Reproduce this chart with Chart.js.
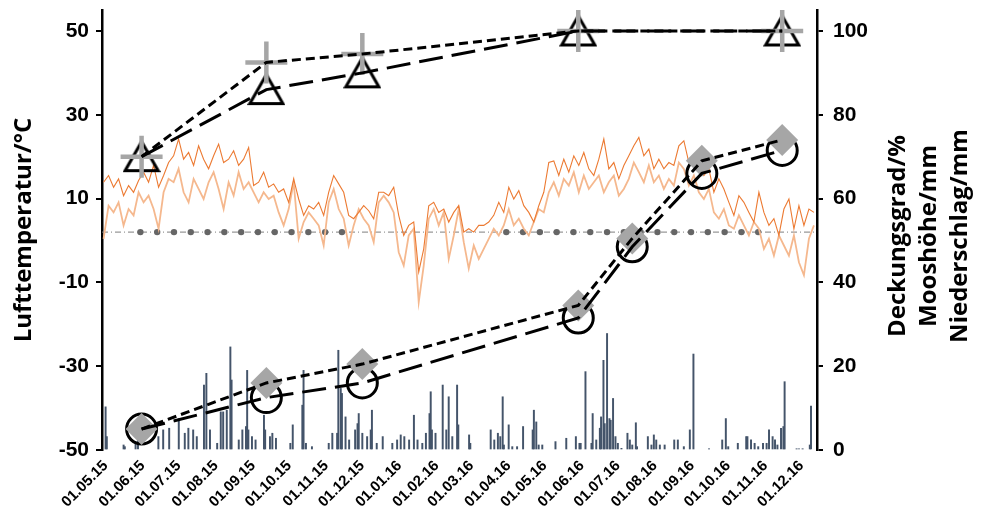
<!DOCTYPE html>
<html>
<head>
<meta charset="utf-8">
<script src="https://cdn.jsdelivr.net/npm/chart.js@4.4.1/dist/chart.umd.min.js"></script>
<style>
  html, body { margin: 0; padding: 0; background: #fff; }
  #wrap { position: relative; width: 981px; height: 506px; }
</style>
</head>
<body>
<div id="wrap"><canvas id="c"></canvas></div>
<script>
// Day numbers are counted from 1 May 2015 (= day 0).
const monthTickDays = [0, 31, 61, 92, 123, 153, 184, 214, 245, 276, 305, 336, 366, 397, 427, 458, 489, 519, 550, 580];
const monthTickLabels = ['01.05.15', '01.06.15', '01.07.15', '01.08.15', '01.09.15', '01.10.15', '01.11.15', '01.12.15',
  '01.01.16', '01.02.16', '01.03.16', '01.04.16', '01.05.16', '01.06.16', '01.07.16', '01.08.16', '01.09.16',
  '01.10.16', '01.11.16', '01.12.16'];

const tempLeftTicks = [-50, -30, -10, 10, 30, 50];
const rightTicks = [0, 20, 40, 60, 80, 100];

// Air temperature (°C), one reading every 4.17 days starting at day -1.7
const tempFirstDay = -1.7;
const tempStepDays = 4.17;
const airTempA = [
  13.9, 15.5, 12.7, 14.7, 10.7, 13.1, 11.5, 14.3, 16.3, 13.9,
  17.9, 12.7, 15.5, 18.6, 20.2, 24.2, 19.4, 21.0, 17.9, 22.6,
  19.4, 17.1, 20.2, 23.0, 18.6, 19.4, 21.4, 17.9, 19.4, 22.2,
  13.1, 13.9, 16.3, 12.7, 13.5, 11.5, 12.3, 9.1, 14.7, 9.9,
  6.0, 8.3, 7.5, 9.1, 6.0, 11.5, 15.5, 13.5, 11.5, 6.0,
  5.2, 6.7, 8.3, 7.1, 5.2, 11.5, 11.5, 10.7, 12.7, 6.0,
  1.2, 3.6, 4.4, -7.5, -2.0, 8.3, 9.1, 6.7, 7.5, 4.4,
  6.7, 8.3,
  2.0, 2.8, 2.0, 3.6, 3.6, 4.4, 6.0, 9.1, 6.7, 12.7,
  9.9, 11.9, 8.3, 6.7, 4.4, 8.3, 11.5, 18.6, 19.0, 15.5,
  19.4, 16.3, 20.2, 17.9, 21.0, 17.1, 15.5, 19.4, 24.2, 17.1,
  18.6, 14.7, 17.9, 20.2, 22.6, 24.6, 20.2, 21.8, 17.1, 19.4,
  17.1, 18.6, 17.9, 22.6, 23.8, 18.6, 19.4, 17.1, 15.5, 17.1,
  11.5, 14.7, 12.3, 9.1, 6.0, 10.7, 9.1, 6.7, 4.4, 11.5,
  6.7, 3.6, 5.2, 1.2, 7.5, 9.9, 2.8, 8.3, 3.6, 7.5,
  6.7
];
const airTempB = [
  0.4, 8.3, 6.7, 9.1, 3.6, 7.5, 6.0, 11.5, 9.1, 10.7,
  7.5, 2.8, 11.5, 14.7, 13.9, 17.1, 11.5, 9.1, 14.7, 12.3,
  9.9, 13.9, 16.3, 12.3, 7.5, 13.9, 10.7, 16.3, 12.3, 13.9,
  11.5, 9.1, 11.5, 9.9, 10.7, 6.7, 3.6, 7.5, 13.9, 0.4,
  4.4, 6.7, 5.2, 3.6, -1.2, 9.1, 12.3, 7.5, 5.2, -1.2,
  3.6, 7.5, 5.2, 3.6, -0.4, 9.1, 10.7, 9.1, 6.7, -2.8,
  -6.0, 1.2, 2.8, -14.7, -6.0, 5.2, 7.5, 3.6, 6.7, -4.4,
  1.2, 7.5,
  -0.4, -6.7, -1.2, -4.4, -2.0, 0.4, 2.8, 1.2, 3.6, 7.5,
  3.6, 5.2, 2.8, 1.2, 4.4, 7.5, 6.7, 11.5, 13.9, 10.7,
  14.7, 13.1, 16.3, 11.5, 15.5, 12.3, 13.9, 15.5, 11.5, 13.9,
  15.5, 10.7, 12.3, 14.7, 18.6, 16.3, 13.9, 17.9, 13.9, 15.5,
  12.3, 14.7, 13.1, 18.6, 17.1, 13.1, 15.5, 11.5, 9.9, 12.3,
  6.7, 5.2, 7.5, 3.6, 2.8, 6.0, 3.6, 1.2, 4.4, 2.8,
  -2.0, 0.4, -3.6, 1.2, -1.2, -3.6, 1.2, -5.2, -8.3, 0.4,
  3.6
];

// Daily precipitation (mm)
const precipDays = [
  0, 1, 15, 16, 25, 27, 44, 48, 53, 61, 66, 69, 73, 76, 82, 84, 87, 93, 96, 98,
  101, 104, 105, 111, 114, 117, 118, 119, 122, 125, 132, 133, 137, 139, 142, 154, 156, 164, 165, 167,
  172, 186, 189, 193, 194, 196, 197, 200, 203, 208, 210, 211, 214, 218, 221, 222, 226, 231, 239, 243,
  246, 249, 253, 257, 260, 264, 267, 270, 271, 272, 275, 281, 284, 286, 289, 293, 294, 303, 304, 321,
  324, 327, 329, 331, 332, 336, 339, 343, 348, 356, 357, 359, 361, 364, 375, 384, 392, 395, 396, 400,
  405, 406, 409, 412, 413, 415, 416, 418, 420, 421, 423, 425, 427, 430, 435, 437, 439, 442, 443, 452,
  455, 457, 459, 462, 466, 474, 477, 482, 487, 490, 503, 514, 517, 519, 527, 534, 535, 538, 541, 544,
  548, 551, 553, 556, 558, 560, 563, 565, 566, 576, 578, 581, 587, 588
];
const precipMm = [
  10.3, 3.2, 1.2, 0.8, 2.0, 2.8, 3.2, 4.8, 5.2, 7.5, 4.0, 5.2, 4.8, 3.2, 15.5, 18.3, 4.8, 1.6, 9.1, 9.1,
  9.5, 24.6, 16.7, 2.4, 4.8, 5.6, 19.0, 4.8, 3.2, 2.4, 8.3, 4.8, 3.2, 4.0, 2.8, 1.6, 6.0, 10.7, 19.0, 1.6,
  0.8, 1.6, 4.0, 4.0, 23.8, 14.7, 13.5, 7.9, 2.4, 4.8, 6.3, 8.7, 4.0, 3.2, 4.8, 9.5, 1.6, 3.2, 1.6, 2.4,
  3.6, 3.2, 2.4, 8.3, 2.4, 1.6, 4.0, 8.7, 13.9, 4.8, 4.0, 15.5, 4.8, 12.7, 3.2, 15.5, 6.0, 3.6, 1.6, 4.8,
  2.4, 4.0, 3.2, 12.7, 1.2, 6.0, 0.8, 0.8, 5.6, 4.8, 9.5, 6.7, 1.2, 1.2, 2.0, 2.8, 3.2, 1.6, 1.6, 18.7,
  1.6, 8.7, 2.4, 5.2, 7.9, 21.4, 6.3, 27.8, 7.5, 7.1, 12.3, 3.2, 1.6, 0.4, 4.0, 2.4, 1.2, 6.5, 0.8, 3.2,
  1.2, 3.6, 2.4, 1.2, 1.2, 2.4, 2.4, 0.8, 4.8, 22.9, 0.3, 2.4, 7.5, 0.8, 1.6, 3.2, 3.2, 2.4, 1.6, 0.8,
  1.6, 1.6, 4.8, 3.2, 2.4, 1.2, 5.2, 5.6, 16.3, 0.3, 0.3, 0.3, 1.2, 10.5
];

// Vegetation surveys
const coverDays = [30, 134, 214, 394, 564];
const coverTriangle = [70, 86, 90, 100, 100];      // Deckungsgrad/%
const coverCross = [70, 92.5, 94.5, 100, 100];     // Deckungsgrad/%
const mossDays = [30, 134, 214, 394, 439, 497, 564];
const mossCircle = [5, 12.5, 16, 31.5, 48.5, 66, 71.5];   // Mooshöhe/mm
const mossDiamond = [5, 16, 20.5, 34.5, 50.5, 69, 74];    // Mooshöhe/mm

// Reference level with fortnightly logger check dates
const refLevel = 2;
const refDotDays = [29, 43, 57, 71, 85, 99, 113, 127, 141, 155, 169, 183, 197,
  334, 348, 362, 376, 390, 404, 418, 432, 446, 460, 474, 488, 502, 516, 530, 544];

const leftTitle = 'Lufttemperatur/°C';
const rightTitleLines = ['Deckungsgrad/%', 'Mooshöhe/mm', 'Niederschlag/mm'];

const X_MIN = -3, X_MAX = 593;
const TICK_FONT = { family: 'Liberation Sans', size: 21, weight: 'bold' };
const TITLE_FONT = { family: 'Open Sans', size: 24, weight: 'bold' };

const toPoints = (days, vals) => days.map((d, i) => ({ x: d, y: vals[i] }));
const tempPoints = vals => vals.map((v, i) => ({ x: tempFirstDay + i * tempStepDays, y: v }));

function triangleMarker() {
  const c = document.createElement('canvas');
  c.width = 38; c.height = 35;
  const g = c.getContext('2d');
  g.lineWidth = 3; g.strokeStyle = '#000'; g.lineJoin = 'miter';
  g.beginPath();
  g.moveTo(19, 2.5); g.lineTo(2.5, 31.5); g.lineTo(35.5, 31.5); g.closePath();
  g.stroke();
  return c;
}

const rightTitlePlugin = {
  id: 'rightTitle',
  afterDraw(chart) {
    const s = chart.scales.y1;
    const ctx = chart.ctx;
    const yc = (chart.chartArea.top + chart.chartArea.bottom) / 2 + 6;
    ctx.save();
    ctx.font = `${TITLE_FONT.weight} ${TITLE_FONT.size}px "${TITLE_FONT.family}"`;
    ctx.fillStyle = '#000';
    ctx.textAlign = 'center';
    ctx.textBaseline = 'middle';
    rightTitleLines.forEach((t, i) => {
      ctx.save();
      ctx.translate(s.left + 81 + i * 31, yc);
      ctx.rotate(-Math.PI / 2);
      ctx.fillText(t, 0, 0);
      ctx.restore();
    });
    ctx.restore();
  }
};

function build() {
  const tri = triangleMarker();
  const markerBase = { type: 'line', showLine: false, yAxisID: 'y1' };
  const dashBase = { type: 'line', yAxisID: 'y1', pointRadius: 0, borderColor: '#000', borderWidth: 3, fill: false, order: 1 };

  new Chart(document.getElementById('c'), {
    data: {
      datasets: [
        { type: 'bar', yAxisID: 'y1', data: toPoints(precipDays, precipMm),
          backgroundColor: '#44546A', barThickness: 1.3, order: 10 },
        { type: 'line', yAxisID: 'y', data: [{ x: X_MIN, y: refLevel }, { x: X_MAX, y: refLevel }],
          borderColor: '#7F7F7F', borderWidth: 1, borderDash: [6, 3, 1, 3], pointRadius: 0, order: 9 },
        { type: 'line', yAxisID: 'y', showLine: false, data: refDotDays.map(d => ({ x: d, y: refLevel })),
          pointRadius: 3.2, pointBackgroundColor: '#666', pointBorderWidth: 0, order: 8 },
        { type: 'line', yAxisID: 'y', data: tempPoints(airTempB), borderColor: '#F5B88E', borderWidth: 1.8,
          pointRadius: 0, order: 7 },
        { type: 'line', yAxisID: 'y', data: tempPoints(airTempA), borderColor: '#EC7A32', borderWidth: 1.1,
          pointRadius: 0, order: 6 },
        { ...markerBase, data: toPoints(coverDays, coverTriangle), pointStyle: tri, order: 5 },
        { ...markerBase, data: toPoints(coverDays, coverCross), pointStyle: 'cross', pointRadius: 21,
          pointBorderColor: '#A6A6A6', pointBorderWidth: 4.5, order: 4 },
        { ...markerBase, data: toPoints(mossDays, mossCircle), pointStyle: 'circle', pointRadius: 15,
          pointBorderColor: '#000', pointBorderWidth: 3, pointBackgroundColor: 'rgba(0,0,0,0)', order: 3 },
        { ...markerBase, data: toPoints(mossDays, mossDiamond), pointStyle: 'rectRot', pointRadius: 16,
          pointBackgroundColor: '#A6A6A6', pointBorderWidth: 0, order: 2 },
        { ...dashBase, data: toPoints(coverDays, coverTriangle), borderDash: [24, 9] },
        { ...dashBase, data: toPoints(coverDays, coverCross), borderDash: [9, 5] },
        { ...dashBase, data: toPoints(mossDays, mossCircle), borderDash: [24, 9] },
        { ...dashBase, data: toPoints(mossDays, mossDiamond), borderDash: [9, 5] }
      ]
    },
    options: {
      responsive: true,
      maintainAspectRatio: false,
      animation: false,
      events: [],
      layout: { autoPadding: false, padding: { top: 10, left: 0, right: 0, bottom: 0 } },
      plugins: { legend: { display: false }, tooltip: { enabled: false } },
      scales: {
        x: {
          type: 'linear', position: 'bottom', min: X_MIN, max: X_MAX, offset: false,
          afterBuildTicks: s => { s.ticks = monthTickDays.map(v => ({ value: v })); },
          afterFit: s => { s.height = 56; s.paddingLeft = 0; s.paddingRight = 0; },
          grid: { display: false, drawTicks: false, offset: false }, border: { display: false },
          ticks: {
            autoSkip: false, minRotation: 45, maxRotation: 45, padding: 7, color: '#000',
            font: { family: 'Liberation Sans', size: 15, weight: 'bold' },
            callback: v => { const i = monthTickDays.indexOf(v); return i >= 0 ? monthTickLabels[i] : ''; }
          }
        },
        y: {
          type: 'linear', position: 'left', min: -50, max: 55,
          afterBuildTicks: s => { s.ticks = tempLeftTicks.map(v => ({ value: v })); },
          afterFit: s => { s.width = 102; s.paddingTop = 0; s.paddingBottom = 0; },
          grid: { drawOnChartArea: false, color: '#000', lineWidth: 2, tickLength: 6 },
          border: { color: '#000', width: 2.5 },
          ticks: { padding: 7, color: '#000', font: TICK_FONT },
          title: { display: true, text: leftTitle, color: '#000', padding: { top: 10, bottom: 0 },
                   font: TITLE_FONT }
        },
        y1: {
          type: 'linear', position: 'right', min: 0, max: 105,
          afterBuildTicks: s => { s.ticks = rightTicks.map(v => ({ value: v })); },
          afterFit: s => { s.width = 164; s.paddingTop = 0; s.paddingBottom = 0; },
          grid: { drawOnChartArea: false, color: '#000', lineWidth: 2, tickLength: 6 },
          border: { color: '#000', width: 2.5 },
          ticks: { padding: 10, color: '#000', font: TICK_FONT }
        }
      }
    },
    plugins: [rightTitlePlugin]
  });
}

Promise.all([
  document.fonts.load('bold 24px "Open Sans"'),
  document.fonts.load('bold 21px "Liberation Sans"')
]).catch(() => {}).then(build);
</script>
</body>
</html>
